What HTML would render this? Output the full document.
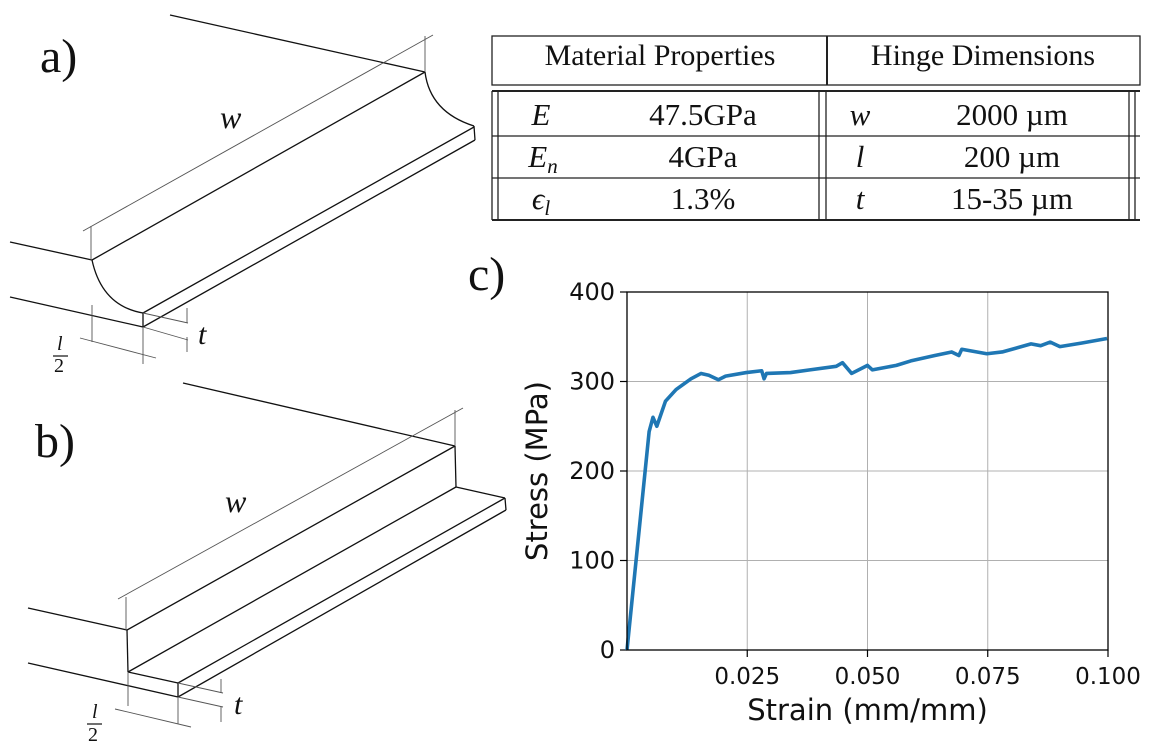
<!DOCTYPE html>
<html><head><meta charset="utf-8"><style>
body{margin:0;background:#fff;}
svg{display:block;}
.ser{font-family:"Liberation Serif",serif;fill:#111;}
.sans{font-family:"DejaVu Sans","Liberation Sans",sans-serif;fill:#111;}
</style></head><body>
<svg width="1160" height="741" viewBox="0 0 1160 741" xmlns="http://www.w3.org/2000/svg">
<g fill="none" stroke="#111" stroke-width="1.3">
<text class="ser" x="40" y="72" font-size="48" stroke="none">a)</text>
<line x1="170" y1="15" x2="425" y2="72"/>
<line x1="425" y1="72" x2="92" y2="260"/>
<line x1="10" y1="242" x2="92" y2="260"/>
<path d="M425 72 Q430 112 474 126"/>
<line x1="474" y1="126" x2="475" y2="140"/>
<line x1="474" y1="127" x2="143" y2="313"/>
<line x1="475" y1="140" x2="143" y2="327"/>
<path d="M92 260 Q102 306 143 313"/>
<line x1="143" y1="313" x2="143" y2="327"/>
<line x1="10" y1="297" x2="143" y2="327"/>
<g stroke="#555" stroke-width="0.9">
<line x1="83" y1="231" x2="433" y2="35"/>
<line x1="91" y1="226" x2="91" y2="260"/>
<line x1="425" y1="36" x2="425" y2="72"/>
<line x1="143" y1="313" x2="188" y2="323"/>
<line x1="143" y1="327" x2="188" y2="340"/>
<line x1="187" y1="308" x2="187" y2="323"/>
<line x1="187" y1="337" x2="187" y2="352"/>
<line x1="92" y1="305" x2="92" y2="342"/>
<line x1="143" y1="327" x2="143" y2="364"/>
<line x1="80" y1="338" x2="156" y2="358"/>
</g>
<text class="ser" x="220" y="128" font-size="32" font-style="italic" stroke="none">w</text>
<text class="ser" x="198" y="344" font-size="30" font-style="italic" stroke="none">t</text>
<text class="ser" x="57" y="350" font-size="20" font-style="italic" stroke="none">l</text>
<line x1="53" y1="356" x2="68" y2="356" stroke-width="1.2"/>
<text class="ser" x="54" y="372" font-size="20" stroke="none">2</text>
</g>
<g fill="none" stroke="#111" stroke-width="1.3">
<text class="ser" x="35" y="457" font-size="48" stroke="none">b)</text>
<line x1="183" y1="383" x2="455" y2="446"/>
<line x1="455" y1="446" x2="127" y2="630"/>
<line x1="28" y1="608" x2="127" y2="630"/>
<line x1="127" y1="630" x2="128" y2="672"/>
<line x1="455" y1="446" x2="456" y2="487"/>
<line x1="456" y1="487" x2="128" y2="672"/>
<line x1="456" y1="487" x2="505" y2="498"/>
<line x1="505" y1="498" x2="506" y2="510"/>
<line x1="505" y1="498" x2="178" y2="683"/>
<line x1="506" y1="510" x2="178" y2="697"/>
<line x1="128" y1="672" x2="178" y2="683"/>
<line x1="178" y1="683" x2="178" y2="697"/>
<line x1="28" y1="663" x2="178" y2="697"/>
<g stroke="#555" stroke-width="0.9">
<line x1="118" y1="599" x2="463" y2="408"/>
<line x1="126" y1="597" x2="126" y2="630"/>
<line x1="455" y1="410" x2="455" y2="446"/>
<line x1="178" y1="683" x2="223" y2="693"/>
<line x1="178" y1="697" x2="223" y2="707"/>
<line x1="221" y1="679" x2="221" y2="693"/>
<line x1="221" y1="707" x2="221" y2="722"/>
<line x1="128" y1="672" x2="128" y2="706"/>
<line x1="178" y1="697" x2="178" y2="724"/>
<line x1="115" y1="709" x2="191" y2="727"/>
</g>
<text class="ser" x="225" y="512" font-size="32" font-style="italic" stroke="none">w</text>
<text class="ser" x="234" y="714" font-size="30" font-style="italic" stroke="none">t</text>
<text class="ser" x="92" y="718" font-size="20" font-style="italic" stroke="none">l</text>
<line x1="87" y1="724" x2="102" y2="724" stroke-width="1.2"/>
<text class="ser" x="88" y="741" font-size="20" stroke="none">2</text>
</g>
<g stroke="#222" stroke-width="1.3" fill="none">
<rect x="492" y="36" width="648" height="49"/>
<line x1="827" y1="36" x2="827" y2="85" stroke-width="2"/>
<line x1="492" y1="91" x2="1140" y2="91" stroke-width="2"/>
<line x1="492" y1="136" x2="1140" y2="136"/>
<line x1="492" y1="178" x2="1140" y2="178"/>
<line x1="492" y1="220" x2="1140" y2="220" stroke-width="2"/>
<line x1="492" y1="91" x2="492" y2="220"/><line x1="498" y1="91" x2="498" y2="220"/>
<line x1="819" y1="91" x2="819" y2="220"/><line x1="826" y1="91" x2="826" y2="220"/>
<line x1="1129" y1="91" x2="1129" y2="220"/><line x1="1135" y1="91" x2="1135" y2="220"/>
<g class="ser" font-size="30" stroke="none" text-anchor="middle">
<text x="660" y="65">Material Properties</text>
<text x="983" y="65">Hinge Dimensions</text>
</g>
<g class="ser" font-size="31" stroke="none" text-anchor="middle">
<text x="541" y="125" font-style="italic">E</text><text x="703" y="125">47.5GPa</text>
<text x="543" y="167" font-style="italic">E<tspan font-size="21" dy="6">n</tspan></text><text x="703" y="167">4GPa</text>
<text x="541" y="209" font-style="italic">ϵ<tspan font-size="21" dy="6">l</tspan></text><text x="703" y="209">1.3%</text>
<text x="860" y="125" font-style="italic">w</text><text x="1012" y="125">2000 µm</text>
<text x="860" y="167" font-style="italic">l</text><text x="1012" y="167">200 µm</text>
<text x="860" y="209" font-style="italic">t</text><text x="1012" y="209">15-35 µm</text>
</g>
</g>
<text class="ser" x="468" y="290" font-size="48">c)</text>
<g id="chart"></g>
</svg>
<script>
const strain=[0,0.0046,0.0054,0.0062,0.008,0.0102,0.0133,0.0154,0.017,0.019,0.0205,0.0248,0.028,0.0285,0.029,0.034,0.038,0.0435,0.0448,0.0467,0.05,0.051,0.056,0.059,0.064,0.0675,0.069,0.0696,0.0748,0.078,0.084,0.086,0.088,0.090,0.0946,0.0998];
const stress=[0,244,260,250,278,291,303,309,307,302,306,310,312,303,309,310,313,317,321,309,318,313,318,323,329,333,329,336,331,333,342,340,344,339,343,348];
const yTicks=[0,100,200,300,400];
const xTicks=[0.025,0.05,0.075,0.1];
const xTickLabels=["0.025","0.050","0.075","0.100"];
const NS="http://www.w3.org/2000/svg";
const X0=627,X1=1108,Y0=650,Y1=292;
function xs(v){return X0+(X1-X0)*v/0.1;}
function ys(v){return Y0-(Y0-Y1)*v/400;}
const g=document.getElementById('chart');
function mk(t,a){const e=document.createElementNS(NS,t);for(const k in a)e.setAttribute(k,a[k]);g.appendChild(e);return e;}
yTicks.forEach((v,i)=>{
 const l=mk('line',{x1:X0,x2:X1,y1:ys(v),y2:ys(v),stroke:'#b0b0b0','stroke-width':1});
 
 
 mk('line',{x1:X0-7,x2:X0,y1:ys(v),y2:ys(v),stroke:'#000','stroke-width':1.2});
 const t=mk('text',{x:X0-12,y:ys(v)+8,'text-anchor':'end','font-size':24,class:'sans'});
 t.textContent=String(v);
 
 
});
xTicks.forEach((v,i)=>{
 const l=mk('line',{x1:xs(v),x2:xs(v),y1:Y0,y2:Y1,stroke:'#b0b0b0','stroke-width':1});
 
 
 mk('line',{x1:xs(v),x2:xs(v),y1:Y0,y2:Y0+7,stroke:'#000','stroke-width':1.2});
 const t=mk('text',{x:xs(v),y:684,'text-anchor':'middle','font-size':23,class:'sans'});
 t.textContent=xTickLabels[i];
 
 
});
const p=mk('polyline',{points:strain.map((s,i)=>xs(s)+','+ys(stress[i])).join(' '),fill:'none',stroke:'#1f77b4','stroke-width':3.6,'stroke-linejoin':'round'});


const fr=mk('rect',{x:X0,y:Y1,width:X1-X0,height:Y0-Y1,fill:'none',stroke:'#000','stroke-width':1.3});


const xl=mk('text',{x:(X0+X1)/2,y:720,'text-anchor':'middle','font-size':29,class:'sans'});
xl.textContent='Strain (mm/mm)';


const yl=mk('text',{x:0,y:0,'text-anchor':'middle','font-size':29,class:'sans',transform:'translate(547,471) rotate(-90)'});
yl.textContent='Stress (MPa)';


</script>
</body></html>
